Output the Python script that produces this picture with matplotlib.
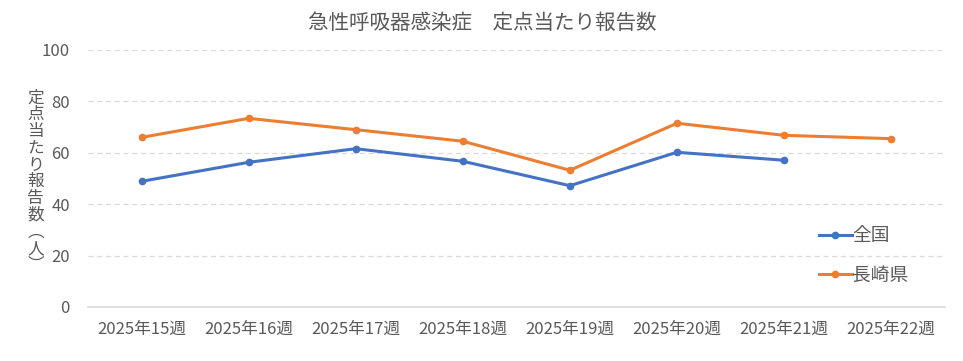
import matplotlib
matplotlib.use("Agg")
import matplotlib.pyplot as plt

plt.rcParams['font.family'] = ['Noto Sans CJK JP', 'DejaVu Sans']

weeks = ["2025年15週", "2025年16週", "2025年17週", "2025年18週",
         "2025年19週", "2025年20週", "2025年21週", "2025年22週"]
national = [48.9, 56.3, 61.6, 56.7, 47.2, 60.2, 57.1]
nagasaki = [66.0, 73.4, 69.0, 64.5, 53.2, 71.5, 66.8, 65.5]
yticks = [0, 20, 40, 60, 80, 100]

title = "急性呼吸器感染症　定点当たり報告数"
ylabel = "定点当たり報告数︵人︶"

txt = "#595959"
fig = plt.figure(figsize=(9.63, 3.61), dpi=100)
ax = fig.add_axes([0.0914, 0.1496, 0.8896, 0.7119])

x_nat = list(range(len(national)))
x_nag = list(range(len(nagasaki)))
ax.plot(x_nat, national, color="#4472C4", lw=2.2, marker="o", ms=4.5, label="全国")
ax.plot(x_nag, nagasaki, color="#ED7D31", lw=2.2, marker="o", ms=4.5, label="長崎県")

ax.set_xlim(-0.5, len(weeks) - 0.5)
ax.set_ylim(0, 100)
ax.set_xticks(range(len(weeks)))
ax.set_xticklabels(weeks)
ax.set_yticks(yticks)
ax.tick_params(axis="both", length=0, colors=txt, labelsize=12)
ax.tick_params(axis="x", pad=10)
ax.tick_params(axis="y", pad=13)
for s in ["top", "right", "left"]:
    ax.spines[s].set_visible(False)
ax.spines["bottom"].set_color("#d9d9d9")
ax.spines["bottom"].set_linewidth(1.2)
ax.yaxis.grid(True, color="#d9d9d9", linestyle=(0, (4, 3)), lw=0.9)
ax.set_axisbelow(True)

fig.text(0.501, 0.936, title, ha="center", va="center", fontsize=14.8, color=txt)
fig.text(0.037, 0.497, "\n".join(ylabel), ha="center", va="center",
         fontsize=12, color=txt, linespacing=0.98)

leg = ax.legend(loc="center left", bbox_to_anchor=(0.833, 0.2), frameon=False,
                fontsize=13.5, labelspacing=1.0, handlelength=1.8, handletextpad=0.0,
                labelcolor=txt)

fig.savefig("out.png", dpi=100)
